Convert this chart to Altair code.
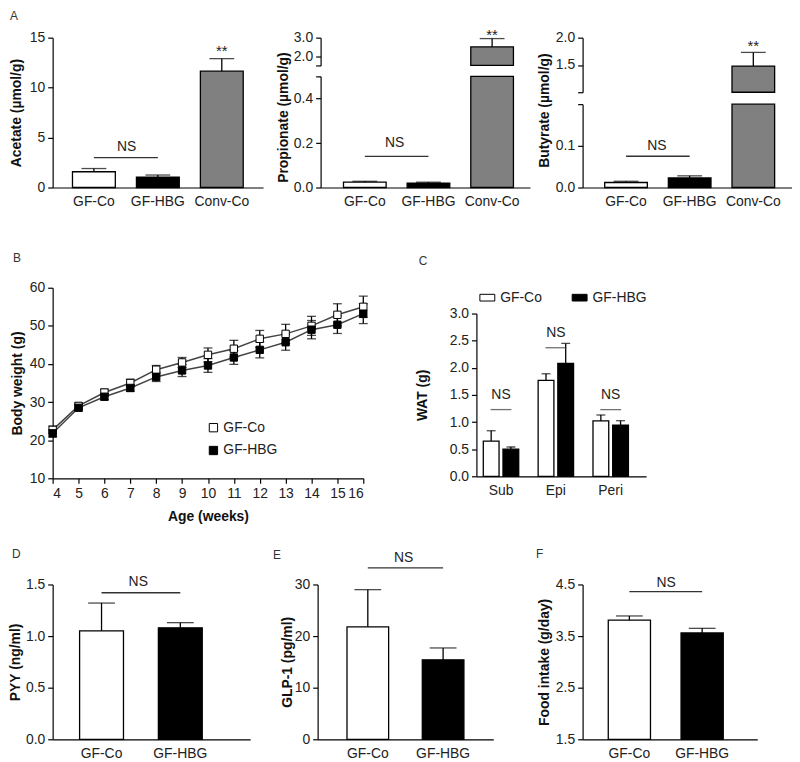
import altair as alt
import pandas as pd

FONT = "Liberation Sans"

# ---------------- Panel A: faecal SCFA ----------------
scfa_groups = ["GF-Co", "GF-HBG", "Conv-Co"]
scfa_fill = ["#ffffff", "#000000", "#808080"]
acetate_mean = [1.58, 1.05, 11.65]
acetate_sem = [0.32, 0.20, 1.25]
propionate_mean = [0.024, 0.020, 2.50]
propionate_sem = [0.004, 0.004, 0.45]
butyrate_mean = [0.012, 0.023, 1.48]
butyrate_sem = [0.003, 0.005, 0.25]

# ---------------- Panel B: body weight ----------------
weeks = [4, 5, 6, 7, 8, 9, 10, 11, 12, 13, 14, 15, 16]
bw_co_mean = [22.7, 29.0, 32.5, 35.0, 38.5, 40.4, 42.4, 44.0, 46.6, 47.9, 50.0, 52.9, 55.0]
bw_co_sem = [1.0, 0.8, 0.9, 1.0, 1.1, 1.3, 1.8, 2.2, 2.2, 2.5, 2.5, 2.9, 2.8]
bw_hbg_mean = [21.8, 28.5, 31.4, 33.7, 36.6, 38.3, 39.6, 41.7, 43.7, 45.7, 49.0, 50.3, 53.2]
bw_hbg_sem = [1.0, 0.8, 0.8, 0.9, 1.2, 1.6, 1.8, 1.8, 2.1, 2.1, 2.4, 2.3, 2.6]

# ---------------- Panel C: WAT ----------------
wat_depots = ["Sub", "Epi", "Peri"]
wat_co_mean = [0.65, 1.77, 1.02]
wat_co_sem = [0.19, 0.12, 0.11]
wat_hbg_mean = [0.50, 2.08, 0.945]
wat_hbg_sem = [0.04, 0.37, 0.08]
wat_ns_line = [1.23, 2.37, 1.23]
wat_ns_text = [1.49, 2.65, 1.49]

# ---------------- Panels D, E, F ----------------
two_groups = ["GF-Co", "GF-HBG"]
two_fill = ["#ffffff", "#000000"]
pyy_mean = [1.05, 1.08]
pyy_sem = [0.27, 0.05]
glp1_mean = [21.8, 15.4]
glp1_sem = [7.2, 2.3]
food_mean = [3.81, 3.56]
food_sem = [0.08, 0.09]

LW = 1.3


def letter(t, dx, offset):
    return alt.TitleParams(text=t, anchor="start", frame="group", dx=dx, offset=offset,
                           fontSize=12, fontWeight="normal", color="#333", font=FONT)


def yaxis(title, values, fmt, blank=None, tp=6, **kw):
    args = dict(values=values, tickCount=len(values), format=fmt, title=title, tickSize=5,
                labelPadding=3, titlePadding=tp, labelOverlap=False)
    if blank is not None:
        args["labelExpr"] = "datum.value == %s ? '' : format(datum.value, '%s')" % (blank, fmt)
    args.update(kw)
    return alt.Axis(**args)


XAXIS = alt.Axis(ticks=False, labelAngle=0, labelPadding=7, title=None, labelOverlap=False)


def make_df(cats, means, sems):
    return pd.DataFrame({"cat": cats, "mean": means,
                         "upper": [m + s for m, s in zip(means, sems)]})


def bar_layers(df, cats, fills, xscale, yscale, yax, xax, cap=25, base=None,
               ycol="mean", err_df=None):
    x = alt.X("cat:N", sort=cats, scale=xscale, axis=xax, title=None)
    enc = dict(x=x, y=alt.Y(ycol + ":Q", scale=yscale, axis=yax),
               fill=alt.Fill("cat:N", scale=alt.Scale(domain=cats, range=fills), legend=None))
    if base is not None:
        enc["y2"] = alt.datum(base)
    bars = alt.Chart(df).mark_bar(stroke="black", strokeWidth=LW).encode(**enc)
    e = df if err_df is None else err_df
    err = alt.Chart(e).mark_rule(color="black", strokeWidth=LW).encode(
        x=alt.X("cat:N", sort=cats), y="mean:Q", y2="upper:Q")
    caps = alt.Chart(e).mark_tick(color="black", thickness=LW, size=cap, orient="horizontal").encode(
        x=alt.X("cat:N", sort=cats), y="upper:Q")
    return [bars, err, caps]


def ns_layers(cats, y_line, y_text, dx):
    d = pd.DataFrame({"cat": [cats[0]], "cat2": [cats[1]], "yl": [y_line], "yt": [y_text]})
    rule = alt.Chart(d).mark_rule(color="#333", strokeWidth=LW).encode(
        x=alt.X("cat:N", sort=cats), x2="cat2:N", y="yl:Q")
    txt = alt.Chart(d).mark_text(text="NS", font=FONT, fontSize=14, dx=dx, color="#222").encode(
        x=alt.X("cat:N", sort=cats), y="yt:Q")
    return [rule, txt]


def stars_layer(cat, y):
    d = pd.DataFrame({"cat": [cat], "ys": [y]})
    return alt.Chart(d).mark_text(text="**", font=FONT, fontSize=15, color="#222").encode(
        x="cat:N", y="ys:Q")


def ascale(align):
    return alt.Scale(domain=scfa_groups, paddingInner=0.33, paddingOuter=0.31, align=align)


# ---------- A1 Acetate ----------
dfA1 = make_df(scfa_groups, acetate_mean, acetate_sem)
A1 = alt.layer(
    *bar_layers(dfA1, scfa_groups, scfa_fill, ascale(0.5), alt.Scale(domain=[0, 15], nice=False),
                yaxis("Acetate (µmol/g)", [0, 5, 10, 15], "d", tp=6), XAXIS),
    *ns_layers(scfa_groups, 3.0, 4.1, 33),
    stars_layer("Conv-Co", 13.7),
).properties(width=212, height=151, title=letter("A", -43, 8))


def broken_panel(means, sems, title, lo_dom, lo_vals, lo_blank, up_dom, up_vals, up_blank,
                 h_up, h_lo, ns_line, ns_text, ns_dx, star_y, align, tp, ty):
    df = make_df(scfa_groups, means, sems)
    top = lo_dom[1]
    df["disp"] = [min(m, top) for m in df["mean"]]
    big = df[df["mean"] > top]
    small = df[df["mean"] <= top]
    xs = ascale(align)
    upper = alt.layer(
        *bar_layers(big, scfa_groups, scfa_fill, xs,
                    alt.Scale(domain=up_dom, nice=False, zero=False),
                    yaxis(None, up_vals, ".1f", up_blank), None, base=up_dom[0]),
        stars_layer("Conv-Co", star_y),
    ).properties(width=211, height=h_up)
    lower = alt.layer(
        *bar_layers(df, scfa_groups, scfa_fill, xs,
                    alt.Scale(domain=lo_dom, nice=False),
                    yaxis(title, lo_vals, ".1f", lo_blank, tp=tp, titleY=ty), XAXIS,
                    ycol="disp", err_df=small),
        *ns_layers(scfa_groups, ns_line, ns_text, ns_dx),
    ).properties(width=211, height=h_lo)
    return upper, lower


A2u, A2l = broken_panel(propionate_mean, propionate_sem, "Propionate (µmol/g)",
                        [0, 0.5], [0, 0.2, 0.4, 0.5], 0.5,
                        [1.5, 3.0], [1.5, 2.0, 3.0], 1.5,
                        28, 112, 0.14, 0.2, 30, 3.16, 0.58, 3, 41)
A3u, A3l = broken_panel(butyrate_mean, butyrate_sem, "Butyrate (µmol/g)",
                        [0, 0.2], [0, 0.1, 0.2], 0.2,
                        [1.0, 2.0], [1.0, 1.5, 2.0], 1.0,
                        55, 84, 0.075, 0.1, 31, 1.855, 0.56, 4, 6)
A2 = alt.vconcat(A2u, A2l, spacing=11, bounds="flush")
A3 = alt.vconcat(A3u, A3l, spacing=12, bounds="flush")

# ---------- B body weight ----------
dfB = pd.concat([
    pd.DataFrame({"week": weeks, "grp": "GF-Co", "mean": bw_co_mean, "sem": bw_co_sem}),
    pd.DataFrame({"week": weeks, "grp": "GF-HBG", "mean": bw_hbg_mean, "sem": bw_hbg_sem}),
])
dfB["lo"] = dfB["mean"] - dfB["sem"]
dfB["hi"] = dfB["mean"] + dfB["sem"]
xB = alt.X("week:Q", scale=alt.Scale(domain=[4, 16], nice=False, zero=False),
           axis=alt.Axis(values=weeks, tickCount=len(weeks), format="d", title="Age (weeks)",
                         tickSize=5, labelPadding=3, titlePadding=10, labelOverlap=False))
yB = alt.Y("mean:Q", scale=alt.Scale(domain=[10, 60], nice=False, zero=False),
           axis=yaxis("Body weight (g)", [10, 20, 30, 40, 50, 60], "d", tp=5))
baseB = alt.Chart(dfB)
B = alt.layer(
    baseB.mark_line(color="#444", strokeWidth=1.5).encode(x=xB, y=yB, detail="grp:N"),
    baseB.mark_rule(color="black", strokeWidth=LW).encode(x="week:Q", y="lo:Q", y2="hi:Q"),
    baseB.mark_tick(color="black", thickness=LW, size=9, orient="horizontal").encode(x="week:Q", y="lo:Q"),
    baseB.mark_tick(color="black", thickness=LW, size=9, orient="horizontal").encode(x="week:Q", y="hi:Q"),
    baseB.mark_point(shape="square", filled=True, size=55, stroke="black", strokeWidth=1, opacity=1).encode(
        x="week:Q", y="mean:Q",
        fill=alt.Fill("grp:N", scale=alt.Scale(domain=two_groups, range=two_fill),
                      legend=alt.Legend(orient="none", legendX=155, legendY=134, title=None,
                                        symbolType="square", symbolStrokeColor="black",
                                        symbolStrokeWidth=1, symbolSize=70, labelFontSize=14,
                                        labelFont=FONT, rowPadding=9, padding=0, labelOffset=3))),
).properties(width=313, height=192, title=letter("B", -40, 15.5))

# ---------- C WAT ----------
dfC = pd.concat([
    pd.DataFrame({"depot": wat_depots, "grp": "GF-Co", "mean": wat_co_mean, "sem": wat_co_sem}),
    pd.DataFrame({"depot": wat_depots, "grp": "GF-HBG", "mean": wat_hbg_mean, "sem": wat_hbg_sem}),
])
dfC["upper"] = dfC["mean"] + dfC["sem"]
dfCns = pd.DataFrame({"depot": wat_depots, "yl": wat_ns_line, "yt": wat_ns_text})
xC = alt.X("depot:N", sort=wat_depots,
           scale=alt.Scale(domain=wat_depots, paddingInner=0.354, paddingOuter=0.224, align=0.28),
           axis=XAXIS, title=None)
xoC = alt.XOffset("grp:N", sort=two_groups, scale=alt.Scale(domain=two_groups, paddingInner=0.2))
C = alt.layer(
    alt.Chart(dfC).mark_bar(stroke="black", strokeWidth=LW).encode(
        x=xC, xOffset=xoC,
        y=alt.Y("mean:Q", scale=alt.Scale(domain=[0, 3], nice=False),
                axis=yaxis("WAT (g)", [0, 0.5, 1, 1.5, 2, 2.5, 3], ".1f", tp=20)),
        fill=alt.Fill("grp:N", scale=alt.Scale(domain=two_groups, range=two_fill),
                      legend=alt.Legend(orient="none", direction="horizontal", legendX=3, legendY=-24,
                                        title=None, symbolType="M-1,-0.45L1,-0.45L1,0.45L-1,0.45Z",
                                        symbolSize=225, symbolStrokeColor="black", symbolStrokeWidth=1,
                                        labelFontSize=14, labelFont=FONT, columnPadding=28,
                                        padding=0, labelOffset=5))),
    alt.Chart(dfC).mark_rule(color="black", strokeWidth=LW).encode(
        x=alt.X("depot:N", sort=wat_depots), xOffset=alt.XOffset("grp:N", sort=two_groups),
        y="mean:Q", y2="upper:Q"),
    alt.Chart(dfC).mark_tick(color="black", thickness=LW, size=9, orient="horizontal").encode(
        x=alt.X("depot:N", sort=wat_depots), xOffset=alt.XOffset("grp:N", sort=two_groups),
        y="upper:Q"),
    alt.Chart(dfCns).mark_tick(color="#333", thickness=LW, size=21, orient="horizontal").encode(
        x=alt.X("depot:N", sort=wat_depots), y="yl:Q"),
    alt.Chart(dfCns).mark_text(text="NS", font=FONT, fontSize=14, color="#222").encode(
        x=alt.X("depot:N", sort=wat_depots), y="yt:Q"),
).properties(width=171, height=164, title=letter("C", -58, 22))

spacer = alt.Chart(pd.DataFrame({"v": [0]})).mark_point(opacity=0).encode(
    x=alt.X("v:Q", axis=None), y=alt.Y("v:Q", axis=None)).properties(width=171, height=26)


# ---------- D E F ----------
def two_bar(means, sems, title, dom, vals, fmt, pi, po, align, ns_line, ns_text, ns_dx, base=None,
            lt="D", ldx=-41, loff=14, width=199, tp=6):
    df = make_df(two_groups, means, sems)
    xs = alt.Scale(domain=two_groups, paddingInner=pi, paddingOuter=po, align=align)
    return alt.layer(
        *bar_layers(df, two_groups, two_fill, xs,
                    alt.Scale(domain=dom, nice=False, zero=False),
                    yaxis(title, vals, fmt, tp=tp), XAXIS, cap=27, base=base),
        *ns_layers(two_groups, ns_line, ns_text, ns_dx),
    ).properties(width=width, height=156, title=letter(lt, ldx, loff))


D = two_bar(pyy_mean, pyy_sem, "PYY (ng/ml)", [0, 1.5], [0, 0.5, 1.0, 1.5], ".1f",
            0.443, 0.475, 0.36, 1.42, 1.52, 37, lt="D", ldx=-41, loff=15, width=199, tp=3)
E = two_bar(glp1_mean, glp1_sem, "GLP-1 (pg/ml)", [0, 30], [0, 10, 20, 30], "d",
            0.447, 0.39, 0.5, 33.2, 35.2, 36, lt="E", ldx=-45, loff=-11, width=177, tp=0)
F = two_bar(food_mean, food_sem, "Food intake  (g/day)", [1.5, 4.5], [1.5, 2.5, 3.5, 4.5], ".1f",
            0.42, 0.41, 0.43, 4.36, 4.52, 37, base=1.5, lt="F", ldx=-47, loff=16, width=176, tp=4)

IND = dict(fill="independent")
row1 = alt.hconcat(A1, alt.hconcat(A2, A3, spacing=7).resolve_scale(**IND),
                   spacing=13).resolve_scale(**IND)
row2 = alt.hconcat(B, alt.vconcat(spacer, C, spacing=0, bounds="flush").resolve_scale(**IND),
                   spacing=46).resolve_scale(**IND)
row3 = alt.hconcat(alt.hconcat(D, E, spacing=68, bounds="flush").resolve_scale(**IND), F,
                   spacing=43).resolve_scale(**IND)

chart = alt.vconcat(
    alt.vconcat(row1, row2, spacing=44).resolve_scale(**IND),
    row3, spacing=23,
).resolve_scale(**IND).properties(
    padding={"left": 0, "top": -1, "right": 0, "bottom": 0}
).configure_axis(
    domainColor="black", tickColor="black", domainWidth=1.2, tickWidth=1.2,
    labelFont=FONT, titleFont=FONT, labelFontSize=14, titleFontSize=14,
    titleFontWeight="bold", labelColor="#222", titleColor="#111", grid=False,
    labelOverlap=False,
).configure_view(stroke=None).configure_legend(labelColor="#222")

chart.save("out.html", embed_options={"renderer": "svg", "actions": False})
